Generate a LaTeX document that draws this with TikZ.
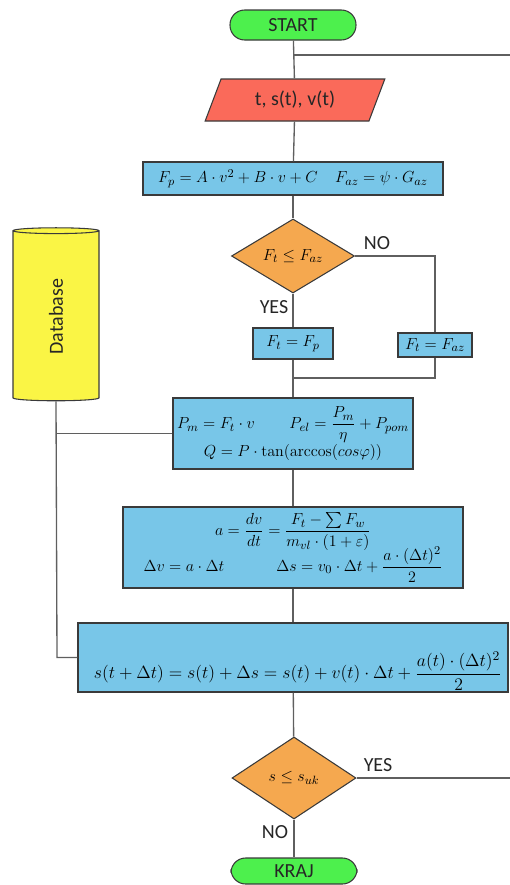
\documentclass[tikz,border=0pt]{standalone}
\usepackage{amsmath}
\usepackage{graphicx}
\usepackage[no-math]{fontspec}
\setmainfont{Carlito}
\usetikzlibrary{shapes.geometric}
\definecolor{cgreen}{HTML}{4DF04D}
\definecolor{cred}{HTML}{FA6A5A}
\definecolor{cblue}{HTML}{78C6E8}
\definecolor{corange}{HTML}{F5A84F}
\definecolor{cyellow}{HTML}{FAF545}
\definecolor{cline}{HTML}{5F5F5F}
\definecolor{cborder}{HTML}{3A3A3A}
\begin{document}
\begin{tikzpicture}[x=0.75pt,y=-0.75pt,
  txt/.style={font=\fontsize{15}{18}\selectfont, text=black!85},
  mth/.style={font=\fontsize{13}{16}\selectfont},
  base/.style={draw=cborder, line width=0.8pt, inner sep=2pt},
  term/.style={base, txt, fill=cgreen, rounded corners=11pt, minimum width=94.5pt},
  procbox/.style={base, mth, fill=cblue, rectangle, align=center},
  decision/.style={base, mth, fill=corange, diamond, inner sep=0pt, aspect=1.6},
  conn/.style={draw=cline, line width=1pt},
  lbl/.style={txt}
]
\useasboundingbox (0,0) rectangle (510,885);

\node[term, minimum height=22.5pt] (start) at (293,25) {START};
\node[base, txt, fill=cred, trapezium, trapezium left angle=68, trapezium right angle=112,
      trapezium stretches=true, minimum width=135pt, minimum height=31.5pt] (io) at (295,100) {t, s(t), v(t)};
\node[procbox, minimum width=225pt, minimum height=24.75pt] (fp) at (293,178.5)
  {$F_p = A\cdot v^2 + B\cdot v + C \quad F_{az} = \psi\cdot G_{az}$};
\node[decision, minimum width=92.25pt, minimum height=55.5pt] (d1) at (293,256) {$F_t \le F_{az}$};
\node[procbox, minimum width=60pt, minimum height=23.25pt] (b2) at (293,343.5) {$F_t = F_p$};
\node[procbox, minimum width=55.5pt, minimum height=18pt, inner sep=1pt] (b3) at (435,345) {$F_t = F_{az}$};
\coordinate (merge) at (293,378);

\node[base, txt, fill=cyellow, cylinder, shape border rotate=90, aspect=0.3,
      minimum width=64.5pt, minimum height=129.75pt] (db) at (56,316.5) {\rotatebox{90}{Database}};

\node[procbox, minimum width=180pt, minimum height=53.25pt] (bp) at (293,433.5)
  {$P_m = F_t\cdot v \qquad P_{el} = \dfrac{P_m}{\eta} + P_{pom}$\\[0pt]
   $Q = P\cdot\tan(\arccos(cos\varphi))$};
\node[procbox, minimum width=255pt, minimum height=60.75pt] (ba) at (293,547.5)
  {$a = \dfrac{dv}{dt} = \dfrac{F_t - \sum F_w}{m_{vl}\cdot(1+\varepsilon)}$\\[-4pt]
   $\Delta v = a\cdot\Delta t \qquad\quad \Delta s = v_0\cdot\Delta t + \dfrac{a\cdot(\Delta t)^2}{2}$};
\node[procbox, minimum width=322.5pt, minimum height=51.75pt] (bs) at (293,657.5) {};
\node[mth, inner sep=0pt] (bstext) at (298,671)
  {\resizebox{306pt}{!}{$s(t+\Delta t) = s(t) + \Delta s = s(t) + v(t)\cdot\Delta t + \dfrac{a(t)\cdot(\Delta t)^2}{2}$}};
\node[decision, minimum width=93pt, minimum height=61.5pt] (d2) at (294,778) {$s \le s_{uk}$};
\node[term, minimum height=19.5pt] (end) at (294,871) {KRAJ};

\coordinate (jr) at (510,55);
\coordinate (jl) at (293,55);
\coordinate (exit) at (510,778);
\coordinate (dbp) at (57,433.5);
\coordinate (dbs) at (57,657.5);

\draw[conn] (start) -- (io);
\draw[conn] (jl) -- (jr);
\draw[conn] (io) -- (fp);
\draw[conn] (fp) -- (d1);
\draw[conn] (d1) -- (b2);
\draw[conn] (d1.east) -| (b3.north);
\draw[conn] (b2) -- (merge);
\draw[conn] (b3.south) |- (merge);
\draw[conn] (merge) -- (bp.north);
\draw[conn] (bp) -- (ba);
\draw[conn] (ba) -- (bs);
\draw[conn] (bs) -- (d2);
\draw[conn] (d2) -- (end);
\draw[conn] (d2.east) -- (exit);
\draw[conn] (db.south) -- (dbs) -- (bs.west);
\draw[conn] (dbp) -- (bp.west);

\node[lbl] (no1) at (377,243) {NO};
\node[lbl] (yes1) at (274,307) {YES};
\node[lbl] (yes2) at (378,765) {YES};
\node[lbl] (no2) at (275,832) {NO};
\end{tikzpicture}
\end{document}
